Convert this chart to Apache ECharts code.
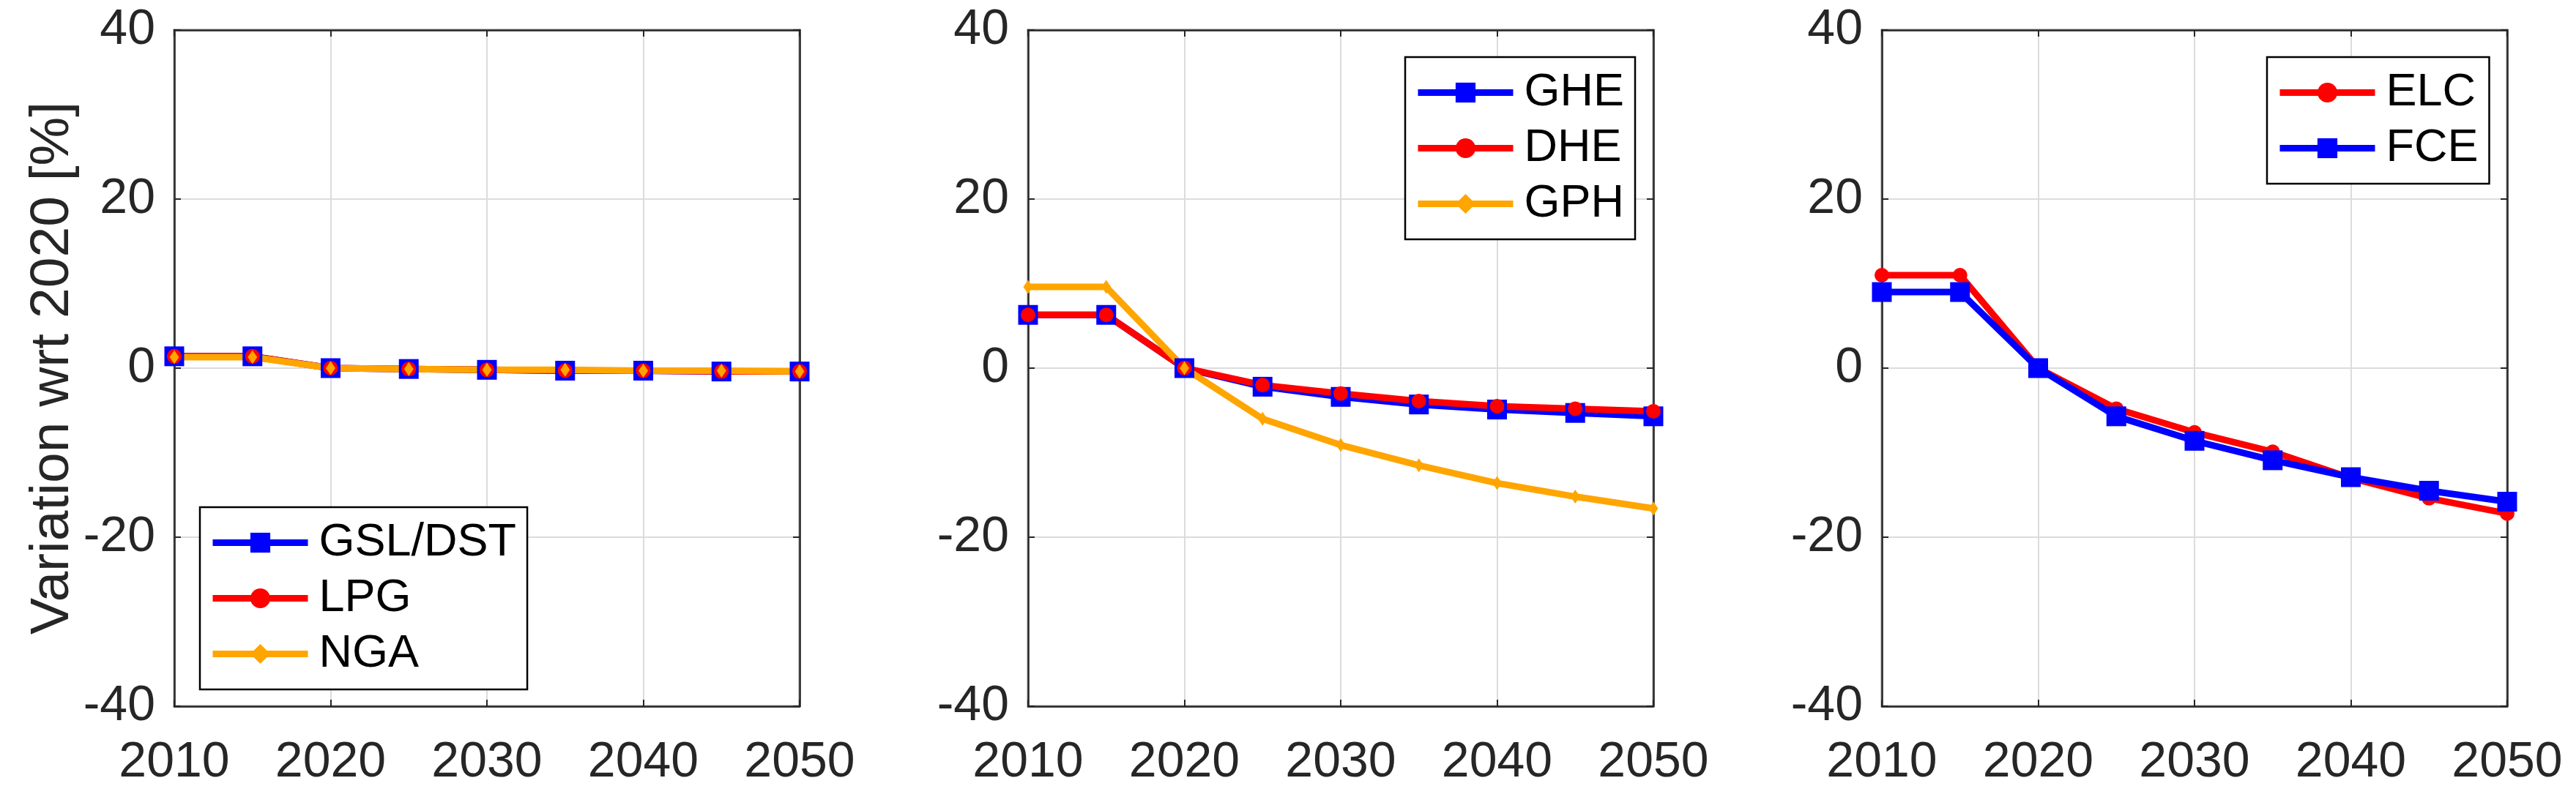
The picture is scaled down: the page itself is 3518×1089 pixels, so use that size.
<!DOCTYPE html>
<html>
<head>
<meta charset="utf-8">
<script src="https://cdn.jsdelivr.net/npm/echarts@6/dist/echarts.min.js"></script>
<style>
html,body{margin:0;padding:0;background:#fff;}
#main{width:3518px;height:1089px;}
</style>
</head>
<body>
<div id="main"></div>
<script>
// ---- data ----
const years = [2010, 2015, 2020, 2025, 2030, 2035, 2040, 2045, 2050];
const yTicks = [-40, -20, 0, 20, 40];
const xTicks = [2010, 2020, 2030, 2040, 2050];

const gslDst = [1.4, 1.4, 0, -0.1, -0.2, -0.3, -0.3, -0.4, -0.4];
const lpg    = [1.4, 1.4, 0, -0.1, -0.2, -0.3, -0.3, -0.4, -0.4];
const nga    = [1.3, 1.3, 0, -0.1, -0.2, -0.2, -0.3, -0.3, -0.4];

const ghe = [6.3, 6.3, 0, -2.2, -3.4, -4.3, -4.9, -5.3, -5.7];
const dhe = [6.3, 6.3, 0, -2.0, -3.0, -3.9, -4.5, -4.8, -5.1];
const gph = [9.6, 9.6, 0, -6.0, -9.1, -11.5, -13.6, -15.2, -16.6];

const elc = [11.0, 11.0, 0, -4.8, -7.6, -9.9, -13.0, -15.4, -17.2];
const fce = [9.0, 9.0, 0, -5.7, -8.6, -10.9, -12.9, -14.5, -15.8];

const yTitle = 'Variation wrt 2020 [%]';

// ---- styles ----
const BLUE = '#0000FF', RED = '#FF0000', ORANGE = '#FFA500';
const AXIS = '#262626';
const FONT = 'Liberation Sans, Arial, Helvetica, sans-serif';
const LW = 9;

const panels = [
  { left: 238, legend: { left: 273, top: 693 },
    series: [
      { name: 'GSL/DST', data: gslDst, color: BLUE, symbol: 'rect', size: 27 },
      { name: 'LPG', data: lpg, color: RED, symbol: 'circle', size: 20 },
      { name: 'NGA', data: nga, color: ORANGE, symbol: 'diamond', size: [13, 19] }
    ], title: true },
  { left: 1404, legend: { left: 1919, top: 78 },
    series: [
      { name: 'GHE', data: ghe, color: BLUE, symbol: 'rect', size: 27 },
      { name: 'DHE', data: dhe, color: RED, symbol: 'circle', size: 20 },
      { name: 'GPH', data: gph, color: ORANGE, symbol: 'diamond', size: [13, 19] }
    ] },
  { left: 2570, legend: { left: 3096, top: 78 },
    series: [
      { name: 'ELC', data: elc, color: RED, symbol: 'circle', size: 20 },
      { name: 'FCE', data: fce, color: BLUE, symbol: 'rect', size: 27 }
    ] }
];

const grid = [], xAxis = [], yAxis = [], series = [], legend = [];
panels.forEach((p, i) => {
  grid.push({ left: p.left, top: 41, width: 854, height: 924, show: true,
    borderColor: AXIS, borderWidth: 2.5, backgroundColor: '#fff', containLabel: false, outerBoundsMode: 'none' });
  const gx = i;
  const tick = { show: true, inside: true, length: 9, lineStyle: { color: AXIS, width: 2 } };
  const line = { show: true, onZero: false, lineStyle: { color: AXIS, width: 2.5 } };
  // bottom x axis
  xAxis.push({ type: 'value', gridIndex: gx, min: 2010, max: 2050, interval: 10, position: 'bottom',
    axisLine: line, axisTick: tick,
    axisLabel: { show: true, color: '#262626', fontSize: 68, fontFamily: FONT, margin: 43,
      formatter: v => xTicks.includes(v) ? String(v) : '' },
    splitLine: { show: true, lineStyle: { color: '#dcdcdc', width: 2 } } });
  // top x axis (ticks only)
  xAxis.push({ type: 'value', gridIndex: gx, min: 2010, max: 2050, interval: 10, position: 'top',
    axisLine: line, axisTick: tick,
    axisLabel: { show: false }, splitLine: { show: false } });
  yAxis.push({ type: 'value', gridIndex: gx, min: -40, max: 40, interval: 20, position: 'left',
    name: p.title ? yTitle : '', nameLocation: 'middle', nameGap: 128,
    nameTextStyle: { fontSize: 75, color: '#262626', fontFamily: FONT },
    axisLine: line, axisTick: tick,
    axisLabel: { show: true, color: '#262626', fontSize: 68, fontFamily: FONT, margin: 26,
      formatter: v => yTicks.includes(v) ? String(v) : '' },
    splitLine: { show: true, lineStyle: { color: '#dcdcdc', width: 2 } } });
  yAxis.push({ type: 'value', gridIndex: gx, min: -40, max: 40, interval: 20, position: 'right',
    axisLine: line, axisTick: tick,
    axisLabel: { show: false }, splitLine: { show: false } });

  p.series.forEach(s => {
    series.push({
      type: 'line', name: s.name + '\u200B'.repeat(i), xAxisIndex: 2 * i, yAxisIndex: 2 * i,
      data: years.map((y, k) => [y, s.data[k]]),
      symbol: s.symbol, symbolSize: s.size, showAllSymbol: true,
      lineStyle: { color: s.color, width: LW },
      itemStyle: { color: s.color, borderWidth: 0 },
      animation: false, silent: true, z: 3
    });
  });

  legend.push({
    orient: 'vertical', left: p.legend.left, top: p.legend.top,
    data: p.series.map(s => s.name + '\u200B'.repeat(i)),
    formatter: n => n.replace(/\u200B/g, ''),
    itemWidth: 130, itemHeight: 34, itemGap: 13,
    padding: [17, 15, 17, 13],
    lineStyle: { width: LW },
    backgroundColor: '#fff', borderColor: '#000', borderWidth: 2.5,
    textStyle: { fontSize: 63, color: '#000', fontFamily: FONT, padding: [0, 0, 0, 10] },
    selectedMode: false, z: 10
  });
});

const chart = echarts.init(document.getElementById('main'), null, { renderer: 'canvas' });
chart.setOption({ backgroundColor: '#fff', animation: false, grid, xAxis, yAxis, series, legend });
</script>
</body>
</html>
